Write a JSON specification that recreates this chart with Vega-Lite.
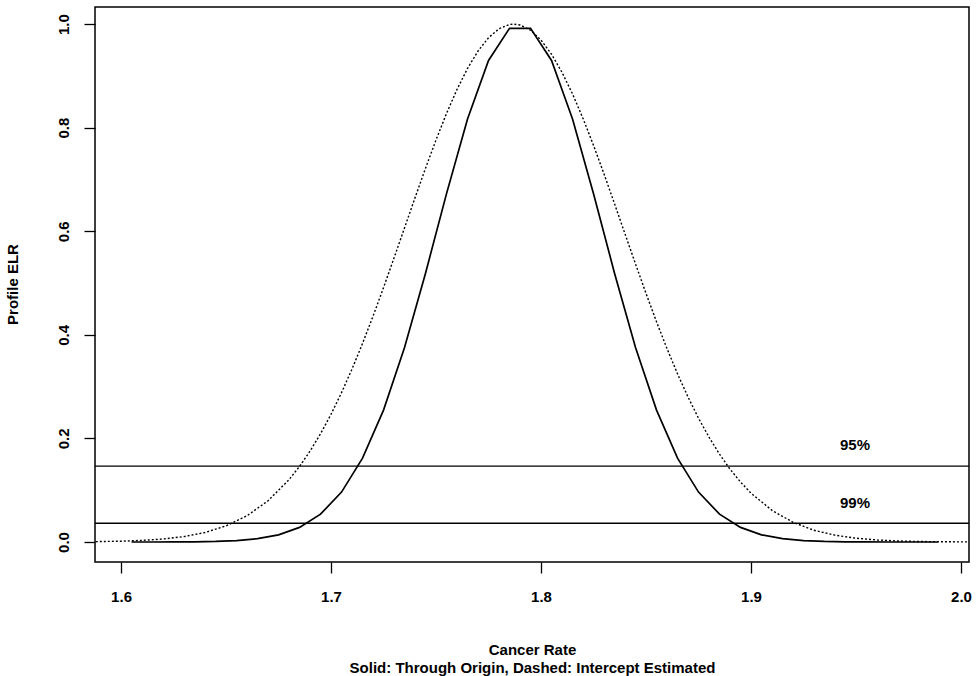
{
  "$schema": "https://vega.github.io/schema/vega-lite/v6.json",
  "autosize": {"type": "none"},
  "width": 874,
  "height": 555,
  "padding": {"left": 95, "top": 7, "right": 11, "bottom": 114},
  "background": "white",
  "config": {
    "view": {"stroke": "black", "strokeWidth": 1.5},
    "font": "Liberation Sans",
    "axis": {"labelFont": "Liberation Sans", "titleFont": "Liberation Sans", "labelColor": "black", "titleColor": "black", "tickColor": "black", "grid": false, "domain": false, "tickWidth": 1.3, "labelFontWeight": "bold", "titleFontWeight": "bold"}
  },
  "datasets": {
    "solid": [
      {"rate": 1.605, "elr": 0.0000}, {"rate": 1.615, "elr": 0.0000}, {"rate": 1.625, "elr": 0.0002},
      {"rate": 1.635, "elr": 0.0004}, {"rate": 1.645, "elr": 0.0011}, {"rate": 1.655, "elr": 0.0027},
      {"rate": 1.665, "elr": 0.0064}, {"rate": 1.675, "elr": 0.0138}, {"rate": 1.685, "elr": 0.0282},
      {"rate": 1.695, "elr": 0.0538}, {"rate": 1.705, "elr": 0.0964}, {"rate": 1.715, "elr": 0.1619},
      {"rate": 1.725, "elr": 0.2547}, {"rate": 1.735, "elr": 0.3756}, {"rate": 1.745, "elr": 0.5191},
      {"rate": 1.755, "elr": 0.6726}, {"rate": 1.765, "elr": 0.8169}, {"rate": 1.775, "elr": 0.9298},
      {"rate": 1.785, "elr": 0.9919}, {"rate": 1.795, "elr": 0.9919}, {"rate": 1.805, "elr": 0.9298},
      {"rate": 1.815, "elr": 0.8169}, {"rate": 1.825, "elr": 0.6726}, {"rate": 1.835, "elr": 0.5191},
      {"rate": 1.845, "elr": 0.3756}, {"rate": 1.855, "elr": 0.2547}, {"rate": 1.865, "elr": 0.1619},
      {"rate": 1.875, "elr": 0.0964}, {"rate": 1.885, "elr": 0.0538}, {"rate": 1.895, "elr": 0.0282},
      {"rate": 1.905, "elr": 0.0138}, {"rate": 1.915, "elr": 0.0064}, {"rate": 1.925, "elr": 0.0027},
      {"rate": 1.935, "elr": 0.0011}, {"rate": 1.945, "elr": 0.0004}, {"rate": 1.955, "elr": 0.0002},
      {"rate": 1.965, "elr": 0.0000}, {"rate": 1.975, "elr": 0.0000}, {"rate": 1.989, "elr": 0.0000}
    ],
    "dashed": [
      {"rate": 1.588, "elr": 0.0007}, {"rate": 1.600, "elr": 0.0016}, {"rate": 1.610, "elr": 0.0031},
      {"rate": 1.620, "elr": 0.0058}, {"rate": 1.630, "elr": 0.0105}, {"rate": 1.640, "elr": 0.0184},
      {"rate": 1.650, "elr": 0.0311}, {"rate": 1.660, "elr": 0.0507}, {"rate": 1.670, "elr": 0.0796},
      {"rate": 1.680, "elr": 0.1204}, {"rate": 1.685, "elr": 0.1460}, {"rate": 1.690, "elr": 0.1755},
      {"rate": 1.695, "elr": 0.2090}, {"rate": 1.700, "elr": 0.2467}, {"rate": 1.705, "elr": 0.2884},
      {"rate": 1.710, "elr": 0.3341}, {"rate": 1.715, "elr": 0.3834}, {"rate": 1.720, "elr": 0.4360},
      {"rate": 1.725, "elr": 0.4912}, {"rate": 1.730, "elr": 0.5484}, {"rate": 1.735, "elr": 0.6065},
      {"rate": 1.740, "elr": 0.6647}, {"rate": 1.745, "elr": 0.7217}, {"rate": 1.750, "elr": 0.7764},
      {"rate": 1.755, "elr": 0.8275}, {"rate": 1.760, "elr": 0.8739}, {"rate": 1.765, "elr": 0.9144},
      {"rate": 1.770, "elr": 0.9480}, {"rate": 1.775, "elr": 0.9737}, {"rate": 1.780, "elr": 0.9910},
      {"rate": 1.785, "elr": 0.9993}, {"rate": 1.787, "elr": 1.0000}, {"rate": 1.790, "elr": 0.9983},
      {"rate": 1.795, "elr": 0.9882}, {"rate": 1.800, "elr": 0.9692}, {"rate": 1.805, "elr": 0.9418},
      {"rate": 1.810, "elr": 0.9068}, {"rate": 1.815, "elr": 0.8651}, {"rate": 1.820, "elr": 0.8177},
      {"rate": 1.825, "elr": 0.7658}, {"rate": 1.830, "elr": 0.7106}, {"rate": 1.835, "elr": 0.6531},
      {"rate": 1.840, "elr": 0.5948}, {"rate": 1.845, "elr": 0.5367}, {"rate": 1.850, "elr": 0.4800},
      {"rate": 1.855, "elr": 0.4252}, {"rate": 1.860, "elr": 0.3733}, {"rate": 1.865, "elr": 0.3247},
      {"rate": 1.870, "elr": 0.2799}, {"rate": 1.875, "elr": 0.2390}, {"rate": 1.880, "elr": 0.2024},
      {"rate": 1.885, "elr": 0.1695}, {"rate": 1.890, "elr": 0.1407}, {"rate": 1.895, "elr": 0.1158},
      {"rate": 1.900, "elr": 0.0943}, {"rate": 1.910, "elr": 0.0610}, {"rate": 1.920, "elr": 0.0381},
      {"rate": 1.930, "elr": 0.0226}, {"rate": 1.940, "elr": 0.0132}, {"rate": 1.950, "elr": 0.0073},
      {"rate": 1.960, "elr": 0.0039}, {"rate": 1.970, "elr": 0.0020}, {"rate": 1.980, "elr": 0.0010},
      {"rate": 1.990, "elr": 0.0005}, {"rate": 2.003, "elr": 0.0002}
    ],
    "levels": [
      {"level": "95%", "cut": 0.1465, "labelRate": 1.9495, "labelElr": 0.187},
      {"level": "99%", "cut": 0.0362, "labelRate": 1.9495, "labelElr": 0.0755}
    ]
  },
  "encoding": {
    "x": {"field": "rate", "type": "quantitative",
      "scale": {"domain": [1.5876, 2.0038], "nice": false, "zero": false},
      "axis": {"values": [1.6, 1.7, 1.8, 1.9, 2.0], "format": ".1f", "tickSize": 11, "labelPadding": 16,
        "labelFontSize": 15, "labelBaseline": "top",
        "title": ["Cancer Rate", "Solid: Through Origin, Dashed: Intercept Estimated"],
        "titleFontSize": 15, "titleLineHeight": 18, "titleY": 80, "titleBaseline": "top"}},
    "y": {"field": "elr", "type": "quantitative",
      "scale": {"domain": [-0.0386, 1.033], "nice": false, "zero": false},
      "axis": {"values": [0, 0.2, 0.4, 0.6, 0.8, 1.0], "format": ".1f", "tickSize": 11, "labelPadding": 13,
        "labelFontSize": 15, "labelAngle": 270, "labelAlign": "center", "labelBaseline": "bottom",
        "title": "Profile ELR", "titleFontSize": 15, "titleAngle": 270,
        "titleAlign": "center", "titleBaseline": "bottom", "titleX": -75, "titleY": 277}}
  },
  "layer": [
    {"data": {"name": "dashed"}, "mark": {"type": "line", "color": "black", "strokeWidth": 1.4, "strokeDash": [2, 2], "clip": true}},
    {"data": {"name": "solid"}, "mark": {"type": "line", "color": "black", "strokeWidth": 1.7}},
    {"data": {"name": "levels"}, "mark": {"type": "rule", "color": "black", "strokeWidth": 1.4},
      "encoding": {"y": {"field": "cut", "type": "quantitative"}, "x": null}},
    {"data": {"name": "levels"}, "mark": {"type": "text", "fontSize": 15, "fontWeight": "bold", "color": "black", "align": "center", "baseline": "middle", "font": "Liberation Sans"},
      "encoding": {"x": {"field": "labelRate", "type": "quantitative"}, "y": {"field": "labelElr", "type": "quantitative"}, "text": {"field": "level"}}}
  ]
}
